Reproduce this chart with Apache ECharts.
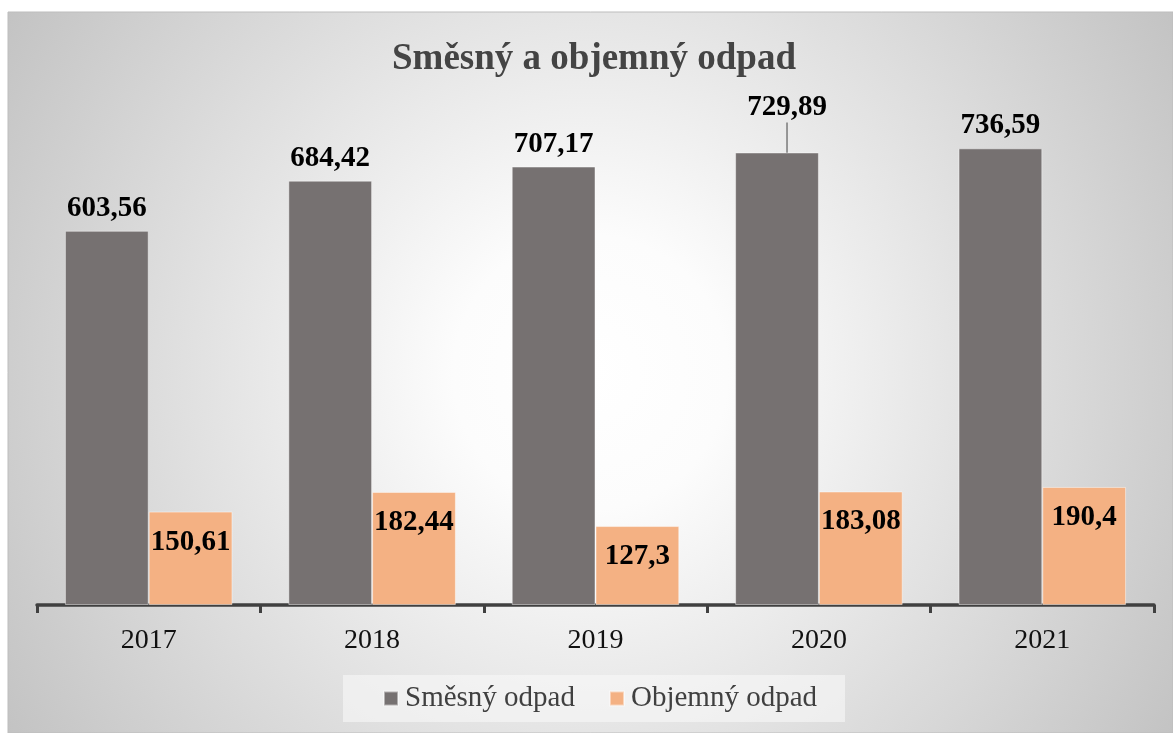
<!DOCTYPE html>
<html>
<head>
<meta charset="utf-8">
<script src="https://cdn.jsdelivr.net/npm/echarts@6/dist/echarts.min.js"></script>
<style>
  html, body { margin: 0; padding: 0; background: #fff; }
  #chart { width: 1173px; height: 733px; }
</style>
</head>
<body>
<div id="chart"></div>
<script>
var years = ['2017', '2018', '2019', '2020', '2021'];
var smesny = [603.56, 684.42, 707.17, 729.89, 736.59];
var objemny = [150.61, 182.44, 127.3, 183.08, 190.4];
var seriesNames = ['Směsný odpad', 'Objemný odpad'];
// the 2020 label sits higher, with a leader line
var movedLabel = 3;

var serif = '"Liberation Serif", "DejaVu Serif", serif';
var chart = echarts.init(document.getElementById('chart'));

function czNum(p) {
  return String(p.value).replace('.', ',');
}

var smesnyData = smesny.map(function (v, i) {
  return i === movedLabel ? { value: v, labelLine: { show: true } } : v;
});

var option = {
  backgroundColor: '#fff',
  animation: false,
  graphic: [{
    type: 'rect',
    z: -10,
    silent: true,
    shape: { x: 8, y: 12, width: 1165, height: 721 },
    style: {
      stroke: '#bdbdbd',
      lineWidth: 1,
      fill: {
        type: 'radial', x: 0.5, y: 0.5, r: 0.95,
        colorStops: [
          { offset: 0, color: '#ffffff' },
          { offset: 0.2, color: '#fcfcfc' },
          { offset: 1, color: '#c3c3c3' }
        ]
      }
    }
  }],
  title: {
    text: 'Směsný a objemný odpad',
    left: 589,
    textAlign: 'center',
    top: 36,
    textStyle: { fontFamily: serif, fontWeight: 'bold', fontSize: 37, color: '#444444' }
  },
  legend: {
    data: seriesNames,
    left: 343,
    top: 675,
    padding: [9, 28, 9, 40],
    backgroundColor: 'rgba(248,248,248,0.6)',
    itemWidth: 14,
    itemHeight: 14,
    itemGap: 34,
    icon: 'rect',
    textStyle: { fontFamily: serif, fontSize: 29, color: '#404040', padding: [0, 0, 0, 2] }
  },
  grid: { left: 37, right: 19, top: 109, bottom: 128 },
  xAxis: {
    type: 'category',
    data: years,
    axisLine: { lineStyle: { color: '#404040', width: 3.5 } },
    axisTick: { show: true, alignWithLabel: false, length: 8, lineStyle: { color: '#404040', width: 3 } },
    axisLabel: { fontFamily: serif, fontSize: 28, color: '#111', margin: 22 }
  },
  yAxis: {
    type: 'value',
    min: 0,
    max: 800,
    show: false,
    splitLine: { show: false }
  },
  series: [{
    name: seriesNames[0],
    type: 'bar',
    data: smesnyData,
    barGap: '0%',
    barCategoryGap: '25%',
    itemStyle: { color: '#767171', borderColor: 'rgba(255,255,255,0.45)', borderWidth: 1 },
    label: {
      show: true, position: 'top', distance: 8, formatter: czNum,
      fontFamily: serif, fontWeight: 'bold', fontSize: 29, color: '#000'
    },
    labelLine: { show: false, lineStyle: { color: '#7a7a7a', width: 1.5 } },
    labelLayout: function (p) {
      return p.dataIndex === movedLabel ? { dx: 10, dy: -22 } : {};
    }
  }, {
    name: seriesNames[1],
    type: 'bar',
    data: objemny,
    itemStyle: { color: '#F4B183', borderColor: 'rgba(255,255,255,0.45)', borderWidth: 1 },
    label: {
      show: true, position: 'insideTop', distance: 16, formatter: czNum,
      fontFamily: serif, fontWeight: 'bold', fontSize: 29, color: '#000'
    }
  }]
};
chart.setOption(option);
</script>
</body>
</html>
